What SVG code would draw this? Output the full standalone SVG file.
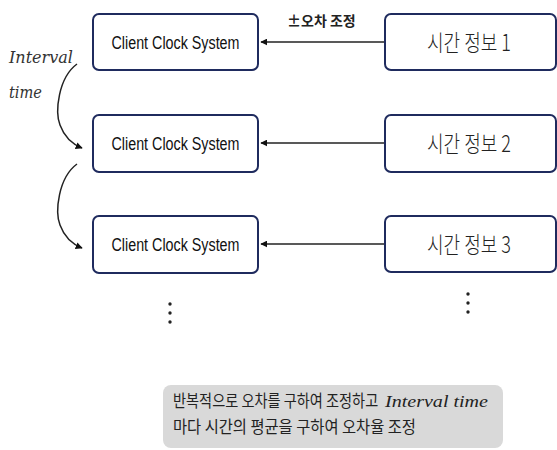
<svg xmlns="http://www.w3.org/2000/svg" width="557" height="450" viewBox="0 0 557 450">
<style>
.box{fill:#fff;stroke:#1f2b5e;stroke-width:2}
.ct{font-family:"Liberation Sans",Arial,sans-serif;font-size:17.5px;fill:#111;text-anchor:middle}
.kt{font-family:"Noto Sans CJK KR","Noto Sans",sans-serif;font-size:23px;font-weight:300;fill:#222;text-anchor:middle}
.ln{stroke:#222;stroke-width:1.5;fill:none}
.it{font-family:"DejaVu Serif","Liberation Serif",serif;font-style:italic;font-size:17px;fill:#333}
.nt{font-family:"Noto Sans CJK KR","Noto Sans",sans-serif;font-size:16.5px;fill:#222}
</style>
<defs>
<marker id="ah" viewBox="0 0 10 10" refX="9" refY="5" markerWidth="7" markerHeight="7" orient="auto" markerUnits="userSpaceOnUse">
<path d="M0,0 L10,5 L0,10 z" fill="#111"/>
</marker>
</defs>
<rect width="557" height="450" fill="#fff"/>
<g id="connectors">
<line class="ln" x1="385" y1="42" x2="261" y2="42" marker-end="url(#ah)"/>
<line class="ln" x1="385" y1="143" x2="261" y2="143" marker-end="url(#ah)"/>
<line class="ln" x1="385" y1="244" x2="261" y2="244" marker-end="url(#ah)"/>
<path class="ln" d="M77,64 C58,78 55,112 60,125 C64,136 72,144 82,148" marker-end="url(#ah)"/>
<path class="ln" d="M77,164 C58,178 55,212 60,225 C64,236 72,244 82,248" marker-end="url(#ah)"/>
</g>
<text x="287" y="26" font-family="'Noto Sans CJK KR',sans-serif" font-size="14" font-weight="bold" fill="#222">±오차 조정</text>
<text class="it" x="9" y="63" textLength="64" lengthAdjust="spacingAndGlyphs">Interval</text>
<text class="it" x="9" y="98" textLength="33" lengthAdjust="spacingAndGlyphs">time</text>
<g id="c1"><rect class="box" x="93" y="14" width="165" height="56" rx="6"/><text class="ct" x="175.5" y="49" textLength="128" lengthAdjust="spacingAndGlyphs">Client Clock System</text></g>
<g id="c2"><rect class="box" x="93" y="115" width="165" height="57" rx="6"/><text class="ct" x="175.5" y="150" textLength="128" lengthAdjust="spacingAndGlyphs">Client Clock System</text></g>
<g id="c3"><rect class="box" x="93" y="216" width="165" height="57" rx="6"/><text class="ct" x="175.5" y="251" textLength="128" lengthAdjust="spacingAndGlyphs">Client Clock System</text></g>
<g id="t1"><rect class="box" x="385" y="14" width="171" height="56" rx="6"/><text class="kt" x="469" y="51" textLength="84" lengthAdjust="spacingAndGlyphs">시간 정보 1</text></g>
<g id="t2"><rect class="box" x="385" y="115" width="171" height="57" rx="6"/><text class="kt" x="469" y="152" textLength="84" lengthAdjust="spacingAndGlyphs">시간 정보 2</text></g>
<g id="t3"><rect class="box" x="385" y="216" width="171" height="56" rx="6"/><text class="kt" x="469" y="253" textLength="84" lengthAdjust="spacingAndGlyphs">시간 정보 3</text></g>
<g id="dots" fill="#222">
<circle cx="170" cy="304" r="1.7"/><circle cx="170" cy="313" r="1.7"/><circle cx="170" cy="322" r="1.7"/>
<circle cx="468" cy="294" r="1.7"/><circle cx="468" cy="303" r="1.7"/><circle cx="468" cy="312" r="1.7"/>
</g>
<g id="note">
<rect x="163" y="385" width="340" height="63" rx="8" fill="#d9d9d9"/>
<text class="nt" transform="translate(173,407) scale(0.86,1)">반복적으로 오차를 구하여 조정하고</text>
<text x="385" y="407" font-family="'Liberation Serif',serif" font-style="italic" font-size="16" fill="#222" textLength="103" lengthAdjust="spacingAndGlyphs">Interval time</text>
<text class="nt" transform="translate(173,433) scale(0.93,1)">마다 시간의 평균을 구하여 오차율 조정</text>
</g>
</svg>
